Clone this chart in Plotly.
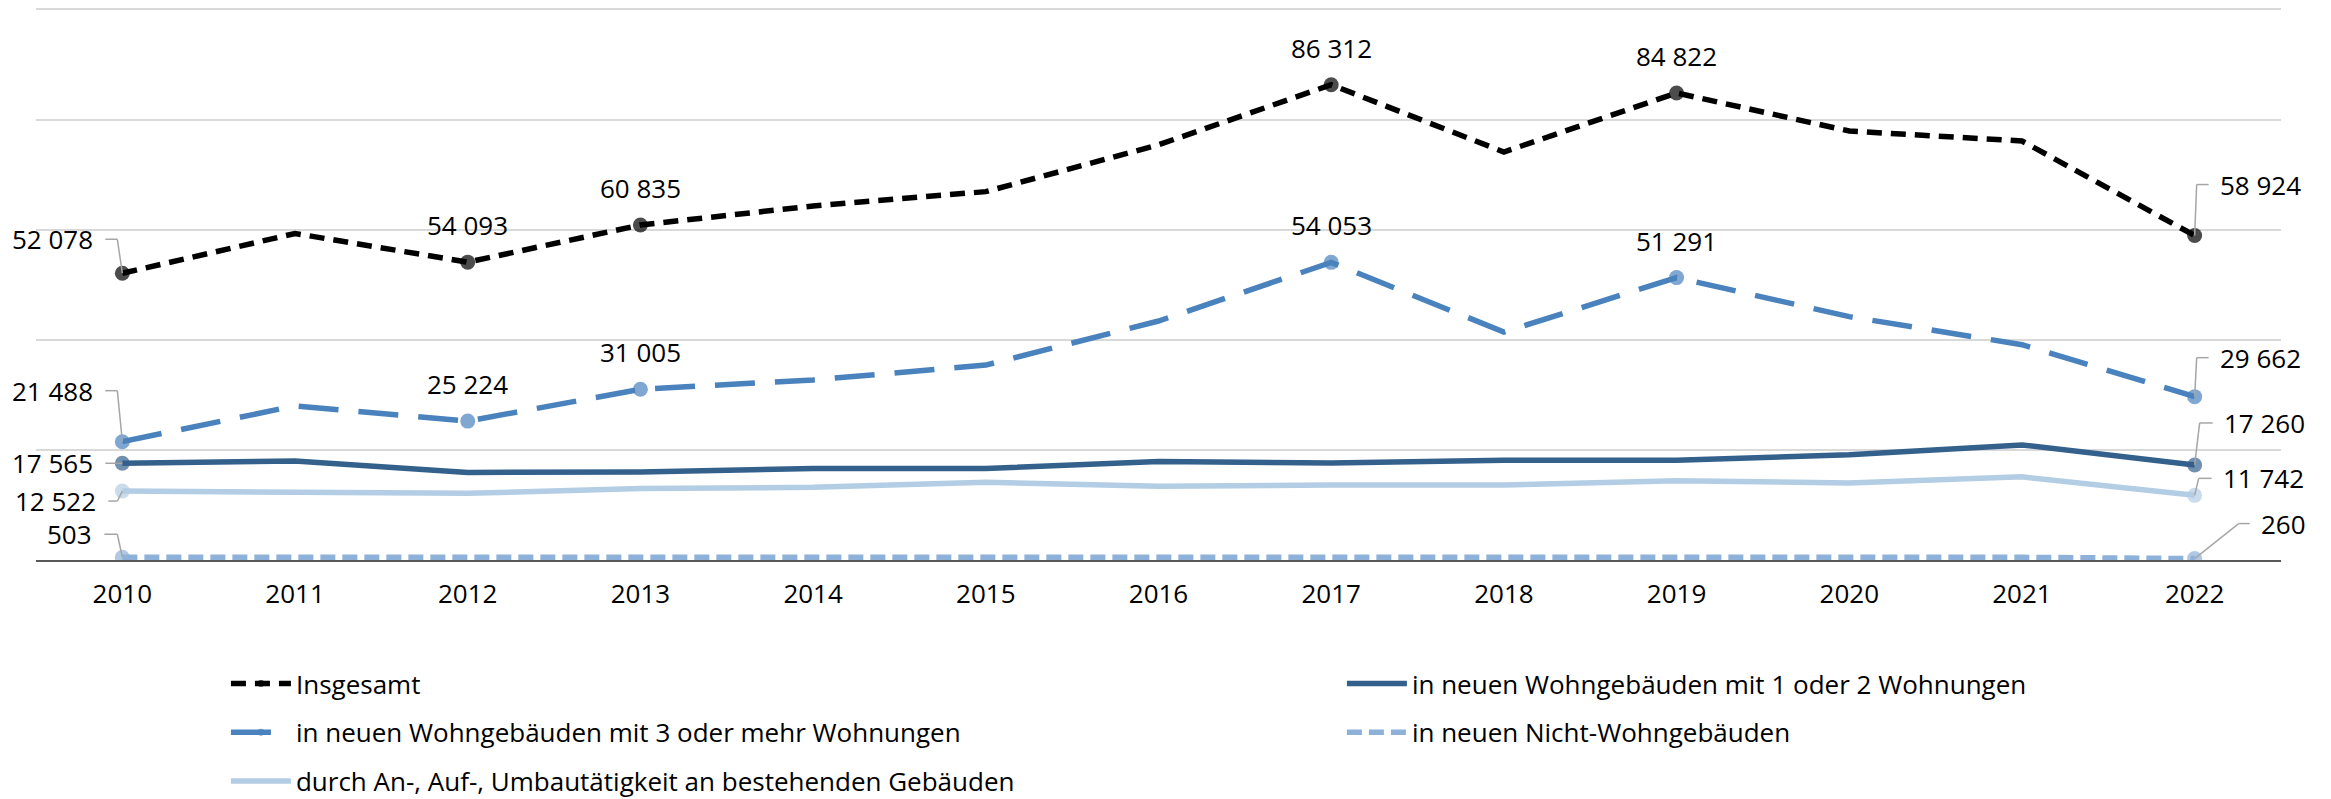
import plotly.graph_objects as go

years = [2010, 2011, 2012, 2013, 2014, 2015, 2016,
         2017, 2018, 2019, 2020, 2021, 2022]

insgesamt = [52078, 59300, 54093, 60835, 64300, 66900, 75400,
             86312, 74100, 84822, 77900, 76100, 58924]
wohn_3_plus = [21488, 28000, 25224, 31005, 32700, 35400, 43400,
               54053, 41400, 51291, 44200, 39100, 29662]
wohn_1_2 = [17565, 18000, 15900, 16000, 16600, 16600, 17900,
            17600, 18100, 18100, 19100, 20900, 17260]
nicht_wohn = [503, 520, 540, 480, 500, 520, 560,
              640, 700, 650, 520, 480, 260]
umbau = [12522, 12400, 12100, 13000, 13200, 14100, 13400,
         13600, 13600, 14400, 14000, 15100, 11742]

# indices of the points carrying a data label
labelled = {
    'Insgesamt': [0, 2, 3, 7, 9, 12],
    '3plus': [0, 2, 3, 7, 9, 12],
    '1_2': [0, 12],
    'nicht': [0, 12],
    'umbau': [0, 12],
}

FONT = 'Open Sans'
FS = 26
LEADER = '#a6a6a6'


def fmt(v):
    return f'{v:,}'.replace(',', ' ')


def marker_sizes(idx, size=15):
    return [size if i in idx else 0 for i in range(len(years))]


fig = go.Figure()

series = [
    # name, values, colour, dash, key, legend
    ('Insgesamt', insgesamt, '#000000', '15px,9px', 'Insgesamt', 'legend'),
    ('in neuen Wohngebäuden mit 3 oder mehr Wohnungen', wohn_3_plus,
     '#4a82bd', '40px,20px', '3plus', 'legend'),
    ('durch An-, Auf-, Umbautätigkeit an bestehenden Gebäuden', umbau,
     '#b3cde4', 'solid', 'umbau', 'legend'),
    ('in neuen Wohngebäuden mit 1 oder 2 Wohnungen', wohn_1_2,
     '#34608c', 'solid', '1_2', 'legend2'),
    ('in neuen Nicht-Wohngebäuden', nicht_wohn,
     '#8eb1d9', '15px,7px', 'nicht', 'legend2'),
]

# draw order: light lines first, totals on top
draw_order = [4, 2, 3, 1, 0]
for k in draw_order:
    name, vals, col, dash, key, leg = series[k]
    fig.add_trace(go.Scatter(
        x=years, y=vals, name=name, mode='lines+markers',
        line=dict(color=col, width=5.5, dash=dash),
        marker=dict(color=col, size=marker_sizes(labelled[key]),
                    line=dict(width=0)),
        legend=leg, legendgroup=key, legendrank=k,
        hoverinfo='skip',
    ))

# Excel-like leader lines: (elbow x, label-side x, label y) in px from the point,
# screen y pointing down
left_lead = {'Insgesamt': (-5, -17, -34), '3plus': (-5, -17, -51),
             '1_2': (-5, -17, 0), 'umbau': (-5, -14, 10), 'nicht': (-5, -18, -23)}
right_lead = {'Insgesamt': (2, 14, -51), '3plus': (2, 14, -39),
              '1_2': (5, 18, -42), 'umbau': (4, 17, -17), 'nicht': (44, 55, -35)}

annotations = []
shapes = []
for name, vals, col, dash, key, leg in series:
    for i in labelled[key]:
        lab_font = dict(family=FONT, size=FS, color='#000000')
        if i == 0 or i == len(years) - 1:
            left = i == 0
            ex, hx, hy = left_lead[key] if left else right_lead[key]
            annotations.append(dict(
                x=years[i], y=vals[i], xref='x', yref='y', text=fmt(vals[i]),
                showarrow=False, xanchor='right' if left else 'left',
                yanchor='middle', xshift=hx - 10 if left else hx + 9,
                yshift=-hy, font=lab_font,
            ))
            for x0, y0, x1, y1 in [(hx, hy, ex, hy), (ex, hy, 0, 0)]:
                shapes.append(dict(
                    type='line', xref='x', yref='y',
                    xsizemode='pixel', ysizemode='pixel',
                    xanchor=years[i], yanchor=vals[i],
                    x0=x0, x1=x1, y0=-y0, y1=-y1,
                    line=dict(color=LEADER, width=1.5),
                ))
        else:
            annotations.append(dict(
                x=years[i], y=vals[i], xref='x', yref='y', text=fmt(vals[i]),
                showarrow=False, yshift=37, font=lab_font,
            ))

legend_style = dict(
    yref='container', y=0.184, xanchor='left', yanchor='top',
    orientation='v', traceorder='grouped', tracegroupgap=12, itemwidth=60,
    font=dict(family=FONT, size=FS), bgcolor='rgba(0,0,0,0)',
)

fig.update_layout(
    width=2331,
    height=799,
    margin=dict(l=28, r=58, t=0, b=247),
    plot_bgcolor='white',
    paper_bgcolor='white',
    font=dict(family=FONT, size=FS, color='#000000'),
    annotations=annotations,
    shapes=shapes,
    xaxis=dict(
        range=[2009.5, 2022.5],
        tickmode='array',
        tickvals=years,
        ticktext=[str(y) for y in years],
        showgrid=False,
        zeroline=False,
        showline=True,
        linecolor='#595959',
        linewidth=2,
        ticks='',
        ticklabelstandoff=10,
        tickfont=dict(family=FONT, size=FS, color='#000000'),
    ),
    yaxis=dict(
        range=[0, 100250],
        tickmode='array',
        tickvals=[0, 20000, 40000, 60000, 80000, 100000],
        showgrid=True,
        gridcolor='#d9d9d9',
        gridwidth=1.5,
        showticklabels=False,
        zeroline=False,
    ),
    legend=dict(x=0.0846, **legend_style),
    legend2=dict(x=0.5817, **legend_style),
    showlegend=True,
)

fig.write_html('out.html')
